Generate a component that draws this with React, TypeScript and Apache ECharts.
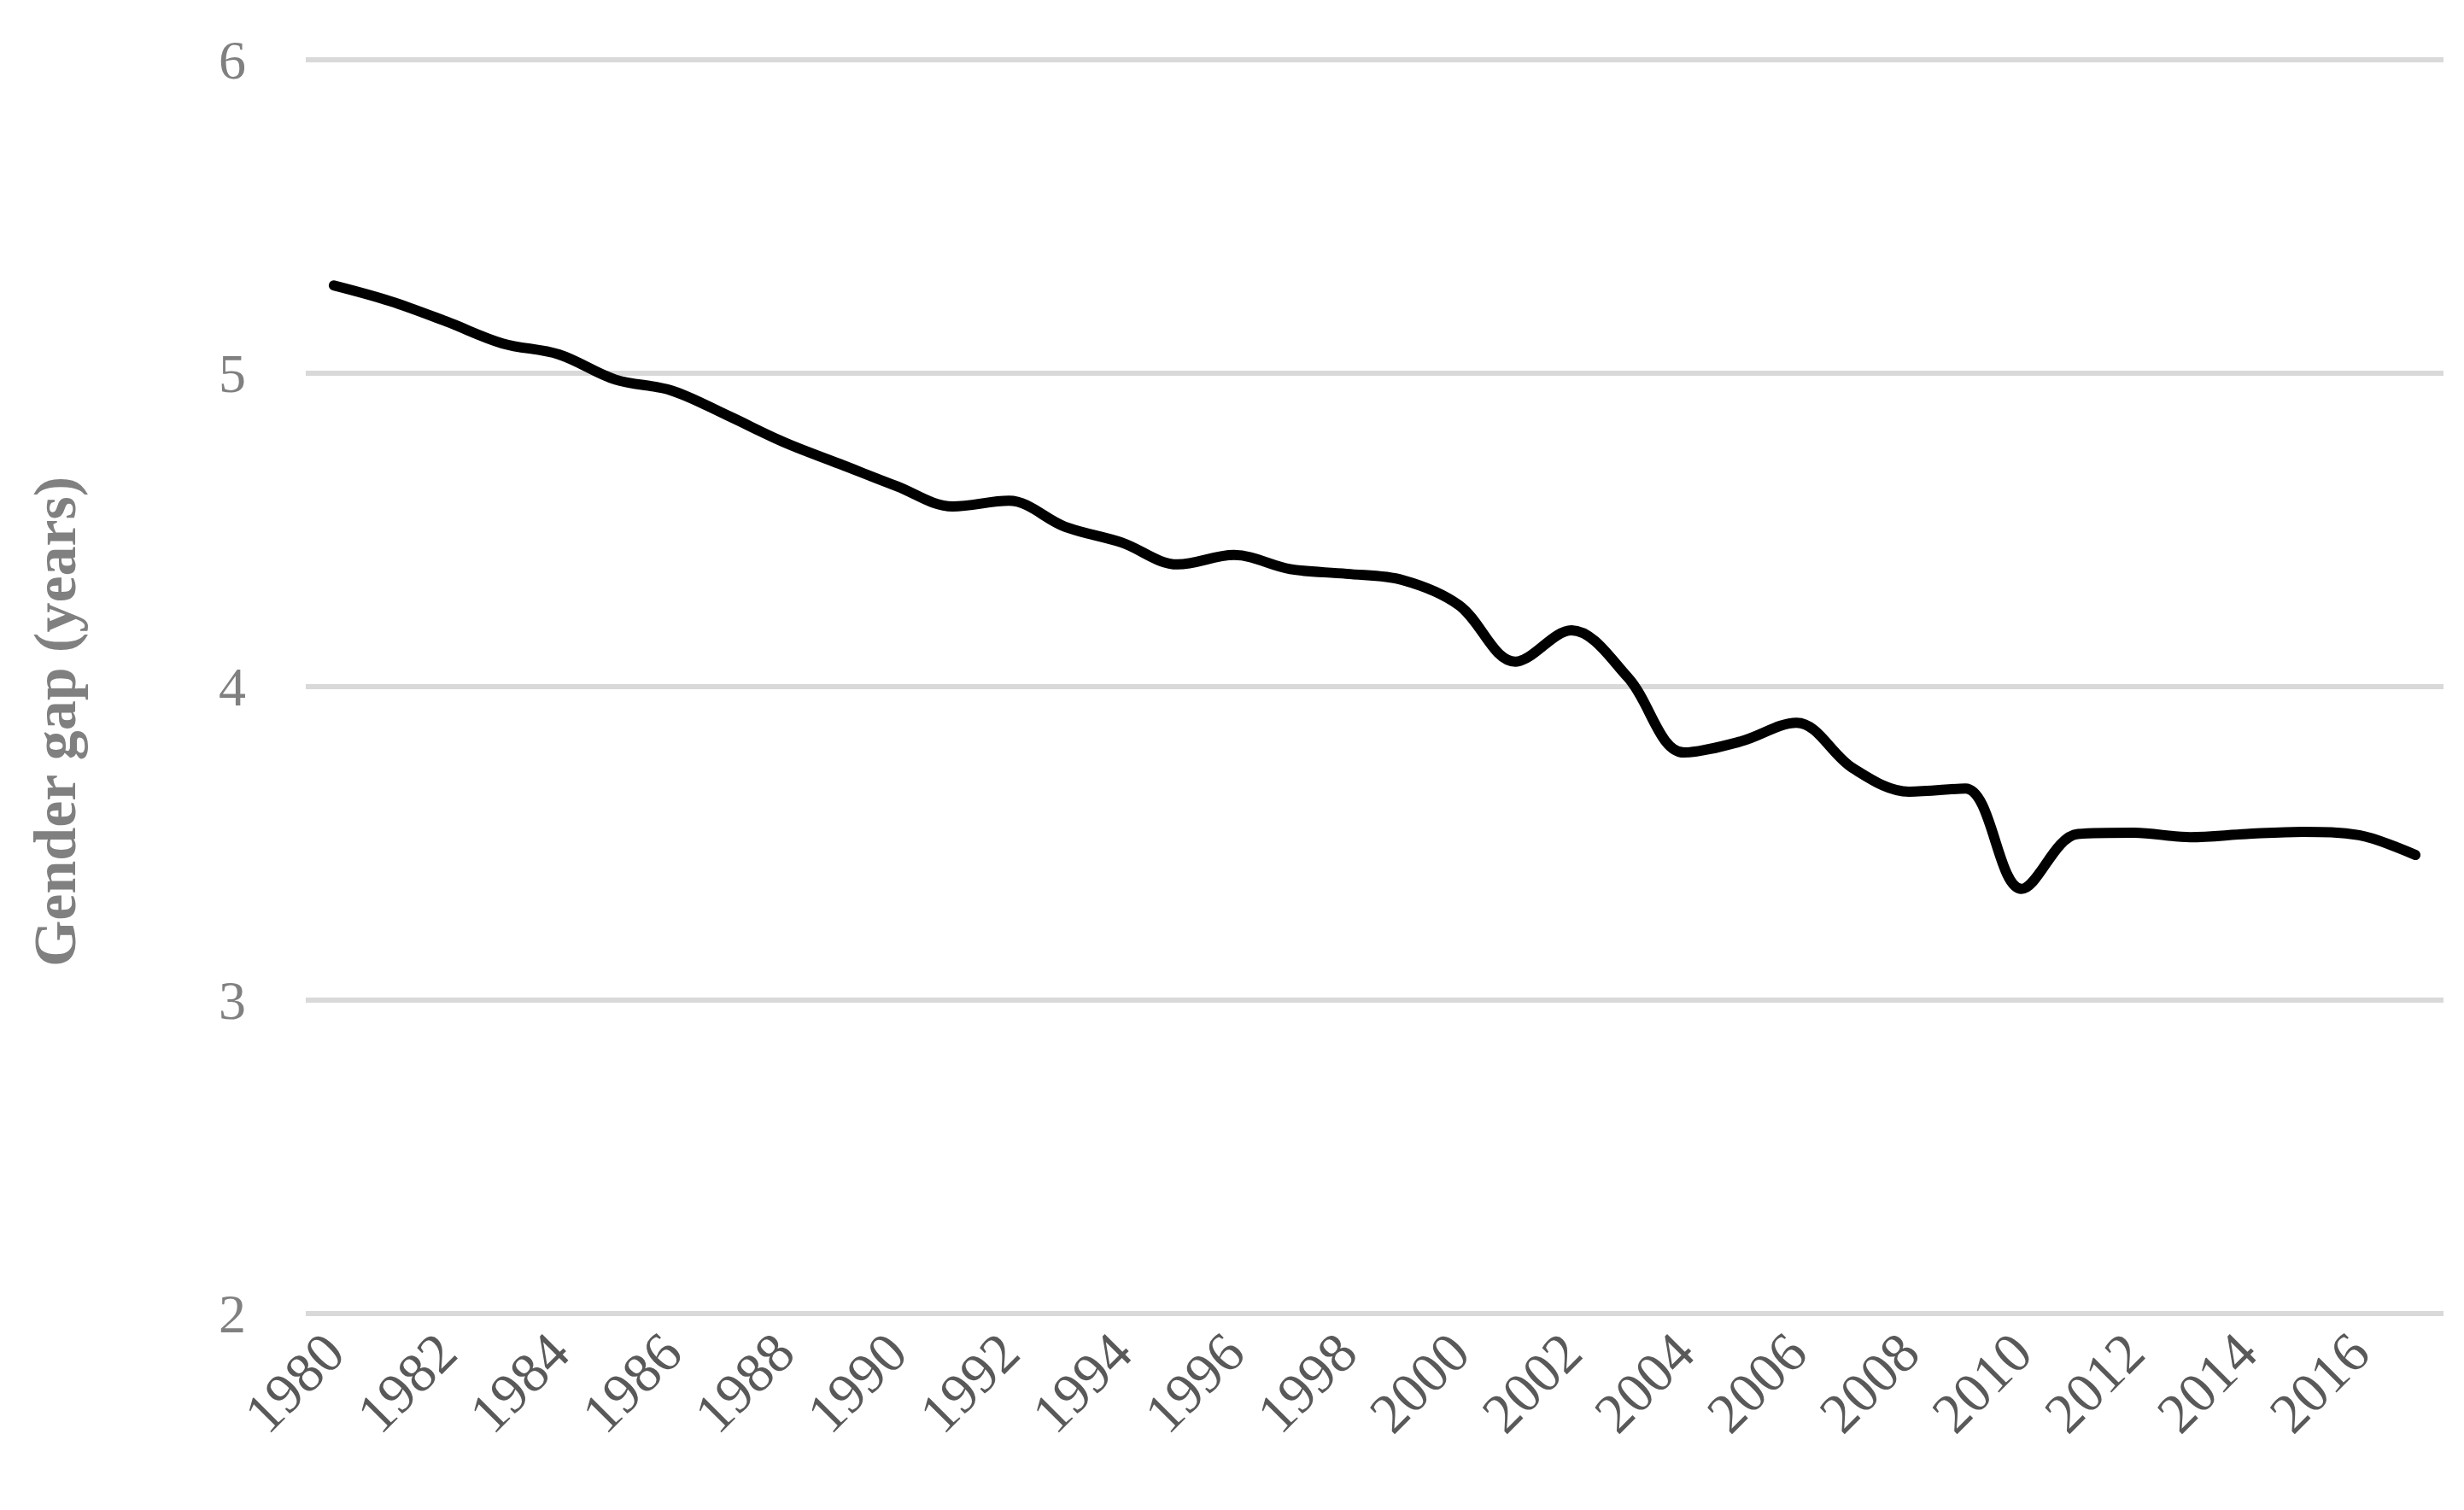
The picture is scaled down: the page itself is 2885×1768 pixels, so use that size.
import React, { useEffect, useRef } from "react";
import * as echarts from "echarts";

const years = [
  "1980", "1981", "1982", "1983", "1984", "1985", "1986", "1987", "1988", "1989",
  "1990", "1991", "1992", "1993", "1994", "1995", "1996", "1997", "1998", "1999",
  "2000", "2001", "2002", "2003", "2004", "2005", "2006", "2007", "2008", "2009",
  "2010", "2011", "2012", "2013", "2014", "2015", "2016", "2017",
];

const gapValues = [
  5.28, 5.23, 5.165, 5.095, 5.06, 4.98, 4.945, 4.865, 4.78, 4.71,
  4.64, 4.575, 4.593, 4.51, 4.46, 4.39, 4.42, 4.375, 4.36, 4.34,
  4.26, 4.08, 4.18, 4.03, 3.79, 3.825, 3.885, 3.74, 3.665, 3.675,
  3.355, 3.53, 3.534, 3.52, 3.53, 3.537, 3.526, 3.463,
];

const yAxisTitle = "Gender gap (years)";
const yMin = 2;
const yMax = 6;
const yStep = 1;

export default function App() {
  const ref = useRef<HTMLDivElement>(null);

  useEffect(() => {
    if (!ref.current) return;
    const chart = echarts.init(ref.current, undefined, { renderer: "svg" });
    const font = "'Liberation Serif', 'Times New Roman', serif";
    chart.setOption({
      animation: false,
      backgroundColor: "#ffffff",
      grid: { left: 358, right: 24, top: 70, bottom: 230, containLabel: false },
      xAxis: {
        type: "category",
        data: years,
        boundaryGap: true,
        axisLine: { show: false },
        axisTick: { show: false },
        splitLine: { show: false },
        axisLabel: {
          interval: 1,
          rotate: 45,
          margin: 34,
          color: "#595959",
          fontSize: 66,
          fontFamily: font,
        },
      },
      yAxis: {
        type: "value",
        min: yMin,
        max: yMax,
        interval: yStep,
        axisLine: { show: false },
        axisTick: { show: false },
        splitLine: { show: true, lineStyle: { color: "#d9d9d9", width: 6 } },
        axisLabel: {
          margin: 70,
          color: "#808080",
          fontSize: 64,
          fontFamily: font,
        },
      },
      graphic: [
        {
          type: "text",
          x: 64,
          y: 845,
          rotation: Math.PI / 2,
          style: {
            text: yAxisTitle,
            fill: "#808080",
            fontSize: 70,
            fontWeight: "bold",
            fontFamily: font,
            textAlign: "center",
            textVerticalAlign: "middle",
          },
        },
      ],
      series: [
        {
          type: "line",
          data: gapValues,
          smooth: 0.35,
          showSymbol: false,
          symbol: "none",
          lineStyle: { color: "#000000", width: 12, cap: "round", join: "round" },
        },
      ],
    });
    return () => chart.dispose();
  }, []);

  return (
    <div
      ref={ref}
      style={{ position: "fixed", left: 0, top: 0, width: 2885, height: 1768, background: "#fff" }}
    />
  );
}
